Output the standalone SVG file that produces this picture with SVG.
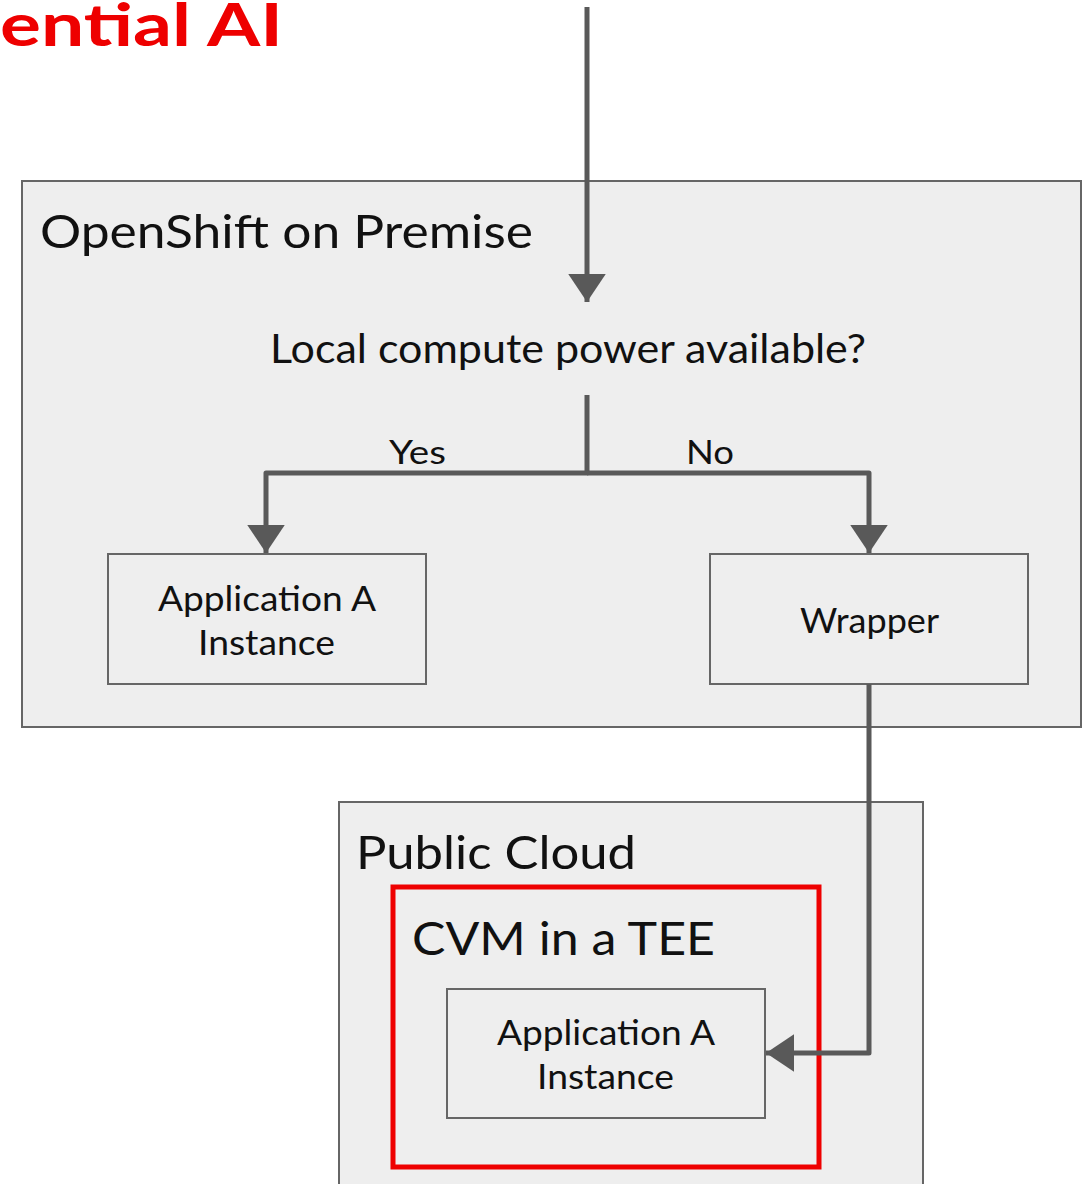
<svg xmlns="http://www.w3.org/2000/svg" width="1089" height="1184" viewBox="0 0 1089 1184">
<defs>
<style>
.box{fill:#eeeeee;stroke:#666666;stroke-width:2}
.t{font-family:Lato,"Open Sans","Liberation Sans",sans-serif;fill:#111111}
.c{stroke:#595959;stroke-width:5;fill:none;stroke-linejoin:round}
</style>
<marker id="ah" viewBox="0 0 10 10" refX="10" refY="5" markerWidth="5.6" markerHeight="7.5" orient="auto" markerUnits="strokeWidth" preserveAspectRatio="none">
<path d="M0,0 L10,5 L0,10 Z" fill="#595959"/>
</marker>
</defs>
<rect width="1089" height="1184" fill="#ffffff"/>
<g id="title">
<text x="0" y="46" class="t" style="fill:#ee0000;font-weight:bold" font-size="60" textLength="283" lengthAdjust="spacingAndGlyphs">ential AI</text>
</g>
<g id="openshift">
<rect class="box" x="22" y="181" width="1059" height="546"/>
<text x="40" y="248" class="t" font-size="46" textLength="493" lengthAdjust="spacingAndGlyphs">OpenShift on Premise</text>
</g>
<g id="question">
<text x="270" y="363" class="t" font-size="40" textLength="596" lengthAdjust="spacingAndGlyphs">Local compute power available?</text>
</g>
<g id="appA1">
<rect class="box" x="108" y="554" width="318" height="130"/>
<text x="158" y="611" class="t" font-size="34" textLength="218" lengthAdjust="spacingAndGlyphs">Application A</text>
<text x="198" y="655" class="t" font-size="34" textLength="137" lengthAdjust="spacingAndGlyphs">Instance</text>
</g>
<g id="wrapper">
<rect class="box" x="710" y="554" width="318" height="130"/>
<text x="800" y="633" class="t" font-size="34" textLength="139" lengthAdjust="spacingAndGlyphs">Wrapper</text>
</g>
<g id="publiccloud">
<rect class="box" x="339" y="802" width="584" height="400"/>
<text x="356" y="869" class="t" font-size="46" textLength="280" lengthAdjust="spacingAndGlyphs">Public Cloud</text>
</g>
<g id="cvm">
<rect x="393" y="887" width="426" height="280" fill="none" stroke="#ee0000" stroke-width="5"/>
<text x="412" y="955" class="t" font-size="46" textLength="303" lengthAdjust="spacingAndGlyphs">CVM in a TEE</text>
</g>
<g id="appA2">
<rect class="box" x="447" y="989" width="318" height="129"/>
<text x="497" y="1045" class="t" font-size="34" textLength="218" lengthAdjust="spacingAndGlyphs">Application A</text>
<text x="537" y="1089" class="t" font-size="34" textLength="137" lengthAdjust="spacingAndGlyphs">Instance</text>
</g>
<g id="connectors">
<path class="c" d="M587,7 L587,302" marker-end="url(#ah)"/>
<path class="c" d="M587,395 L587,473 L266,473 L266,553" marker-end="url(#ah)"/>
<path class="c" d="M587,473 L869,473 L869,553" marker-end="url(#ah)"/>
<path class="c" d="M869,684 L869,1053 L766,1053" marker-end="url(#ah)"/>
<text x="389" y="464" class="t" font-size="32" textLength="57" lengthAdjust="spacingAndGlyphs">Yes</text>
<text x="686" y="464" class="t" font-size="32" textLength="48" lengthAdjust="spacingAndGlyphs">No</text>
</g>
</svg>
